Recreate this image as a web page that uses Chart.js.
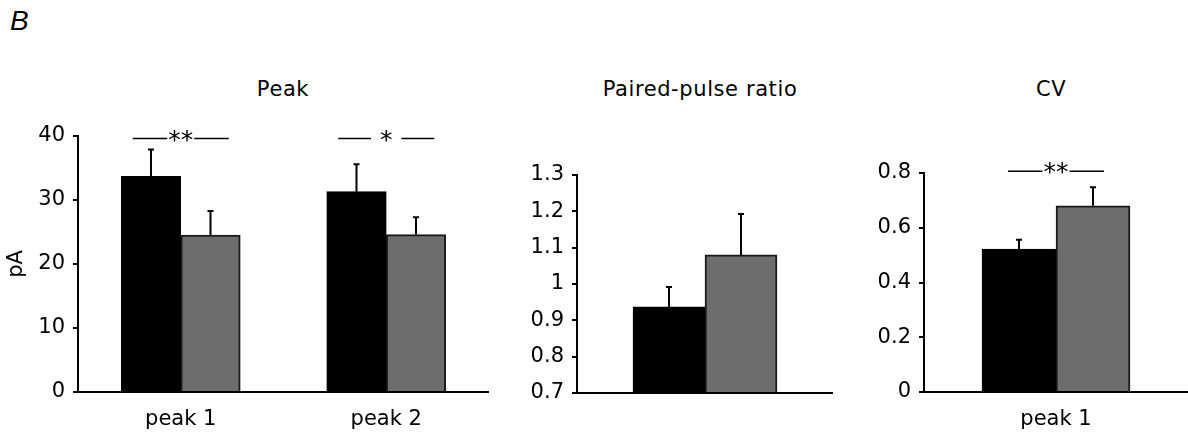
<!DOCTYPE html>
<html lang="en">
<head>
  <meta charset="UTF-8">
  <title>Peak, paired-pulse ratio and CV</title>
  <script src="https://cdn.jsdelivr.net/npm/chart.js"></script>
  <style>
    body {
      margin: 0;
      width: 1188px;
      height: 432px;
      background: #fff;
      position: relative;
      overflow: hidden;
      font-family: 'DejaVu Sans', Verdana, sans-serif;
    }
    .panel {
      position: absolute;
      top: 0;
      height: 432px;
    }
    .title {
      position: absolute;
      top: 77px;
      font-size: 21px;
      letter-spacing: 0.6px;
      color: #000;
      transform: translateX(-50%);
      white-space: nowrap;
    }
    .letter {
      position: absolute;
      left: 10px;
      top: 5px;
      font-family: 'Liberation Sans', Arial, sans-serif;
      font-style: italic;
      font-size: 28px;
    }
  </style>
</head>
<body>

  <div class="letter">B</div>

  <div class="title" style="left:283px">Peak</div>
  <div class="title" style="left:700px">Paired-pulse ratio</div>
  <div class="title" style="left:1051px">CV</div>

  <div class="panel" style="left:0px;width:489px"><canvas id="peakChart" width="489" height="432"></canvas></div>
  <div class="panel" style="left:500px;width:333px"><canvas id="pprChart" width="333" height="432"></canvas></div>
  <div class="panel" style="left:850px;width:338px"><canvas id="cvChart" width="338" height="432"></canvas></div>

  <script>
    // Peak amplitude (pA)
    const peakLabels = ['peak 1', 'peak 2'];
    const peakCtrl = [33.7, 31.3];
    const peakCtrlErr = [4.2, 4.3];
    const peakDrug = [24.5, 24.6];
    const peakDrugErr = [3.8, 2.7];
    const peakTicks = ['0', '10', '20', '30', '40'];
    const peakSig = ['**', ' * '];

    // Paired-pulse ratio
    const pprLabels = [''];
    const pprCtrl = [0.937];
    const pprCtrlErr = [0.055];
    const pprDrug = [1.08];
    const pprDrugErr = [0.113];
    const pprTicks = ['0.7', '0.8', '0.9', '1', '1.1', '1.2', '1.3'];

    // CV
    const cvLabels = ['peak 1'];
    const cvCtrl = [0.522];
    const cvCtrlErr = [0.034];
    const cvDrug = [0.68];
    const cvDrugErr = [0.068];
    const cvTicks = ['0', '0.2', '0.4', '0.6', '0.8'];
    const cvSig = ['**'];

    const FONT = "'DejaVu Sans', Verdana, sans-serif";

    // error bars: one line up from each bar top with a small cap
    const errorBars = {
      id: 'errorBars',
      afterDatasetsDraw(chart) {
        const ctx = chart.ctx;
        const y = chart.scales.y;
        ctx.save();
        ctx.strokeStyle = '#000';
        ctx.lineWidth = 2;
        chart.data.datasets.forEach((ds, d) => {
          chart.getDatasetMeta(d).data.forEach((bar, i) => {
            const top = y.getPixelForValue(ds.data[i] + ds.errors[i]);
            ctx.beginPath();
            ctx.moveTo(bar.x, bar.y);
            ctx.lineTo(bar.x, top);
            ctx.moveTo(bar.x - 3, top);
            ctx.lineTo(bar.x + 3, top);
            ctx.stroke();
          });
        });
        ctx.restore();
      }
    };

    // significance lines with stars above each pair
    const sigMarks = {
      id: 'sigMarks',
      afterDraw(chart, args, opts) {
        if (!opts.marks) return;
        const ctx = chart.ctx;
        const x = chart.scales.x;
        const yy = chart.scales.y.getPixelForValue(opts.level);
        ctx.save();
        ctx.strokeStyle = '#000';
        ctx.lineWidth = 1.5;
        ctx.fillStyle = '#000';
        ctx.font = '25px ' + FONT;
        ctx.textAlign = 'center';
        ctx.textBaseline = 'alphabetic';
        opts.marks.forEach((m, i) => {
          const cx = x.getPixelForValue(i);
          const w = ctx.measureText(m).width / 2 + 1;
          ctx.beginPath();
          ctx.moveTo(cx - opts.half, yy);
          ctx.lineTo(cx - w, yy);
          ctx.moveTo(cx + w, yy);
          ctx.lineTo(cx + opts.half, yy);
          ctx.stroke();
          ctx.fillText(m, cx, yy + 9);
        });
        ctx.restore();
      }
    };

    function makeChart(id, labels, ctrl, ctrlErr, drug, drugErr, o) {
      const ctx = document.getElementById(id).getContext('2d');
      return new Chart(ctx, {
        type: 'bar',
        data: {
          labels: labels,
          datasets: [{
            data: ctrl,
            errors: ctrlErr,
            backgroundColor: '#000000',
            borderColor: '#000000',
            borderWidth: 2,
            base: o.min,
            barThickness: o.bar
          }, {
            data: drug,
            errors: drugErr,
            backgroundColor: '#6d6d6d',
            borderColor: '#1a1a1a',
            borderWidth: 2,
            base: o.min,
            barThickness: o.bar
          }]
        },
        options: {
          responsive: false,
          animation: false,
          layout: { padding: { top: o.top, right: 0, bottom: 0, left: 0 } },
          plugins: {
            legend: { display: false },
            tooltip: { enabled: false },
            sigMarks: { marks: o.sig, level: o.sigLevel, half: 48 }
          },
          scales: {
            x: {
              grid: { display: false },
              border: { display: true, color: '#000', width: 2 },
              ticks: { color: '#000', font: { family: FONT, size: 21 }, padding: 7 },
              afterFit(scale) { scale.height = o.bottom; }
            },
            y: {
              min: o.min,
              max: o.max,
              grid: { display: true, drawOnChartArea: false, drawTicks: true, tickLength: 5, color: '#000', lineWidth: 2 },
              border: { display: true, color: '#000', width: 2 },
              ticks: {
                stepSize: o.step,
                color: '#000',
                font: { family: FONT, size: 21 },
                padding: 8,
                callback: (v, i) => o.tickLabels[i]
              },
              title: {
                display: !!o.yTitle,
                text: o.yTitle || '',
                color: '#000',
                font: { family: FONT, size: 21 },
                padding: { top: 4, bottom: 0 }
              },
              afterFit(scale) { scale.width = o.yWidth; }
            }
          }
        },
        plugins: [errorBars, sigMarks]
      });
    }

    makeChart('peakChart', peakLabels, peakCtrl, peakCtrlErr, peakDrug, peakDrugErr, {
      min: 0, max: 40, step: 10, tickLabels: peakTicks, yTitle: 'pA',
      top: 136, bottom: 40, yWidth: 78, bar: 59.5, sig: peakSig, sigLevel: 39.6
    });

    makeChart('pprChart', pprLabels, pprCtrl, pprCtrlErr, pprDrug, pprDrugErr, {
      min: 0.7, max: 1.3, step: 0.1, tickLabels: pprTicks,
      top: 175, bottom: 39, yWidth: 77, bar: 72
    });

    makeChart('cvChart', cvLabels, cvCtrl, cvCtrlErr, cvDrug, cvDrugErr, {
      min: 0, max: 0.8, step: 0.2, tickLabels: cvTicks,
      top: 173, bottom: 40, yWidth: 74, bar: 74, sig: cvSig, sigLevel: 0.806
    });
  </script>
</body>
</html>
